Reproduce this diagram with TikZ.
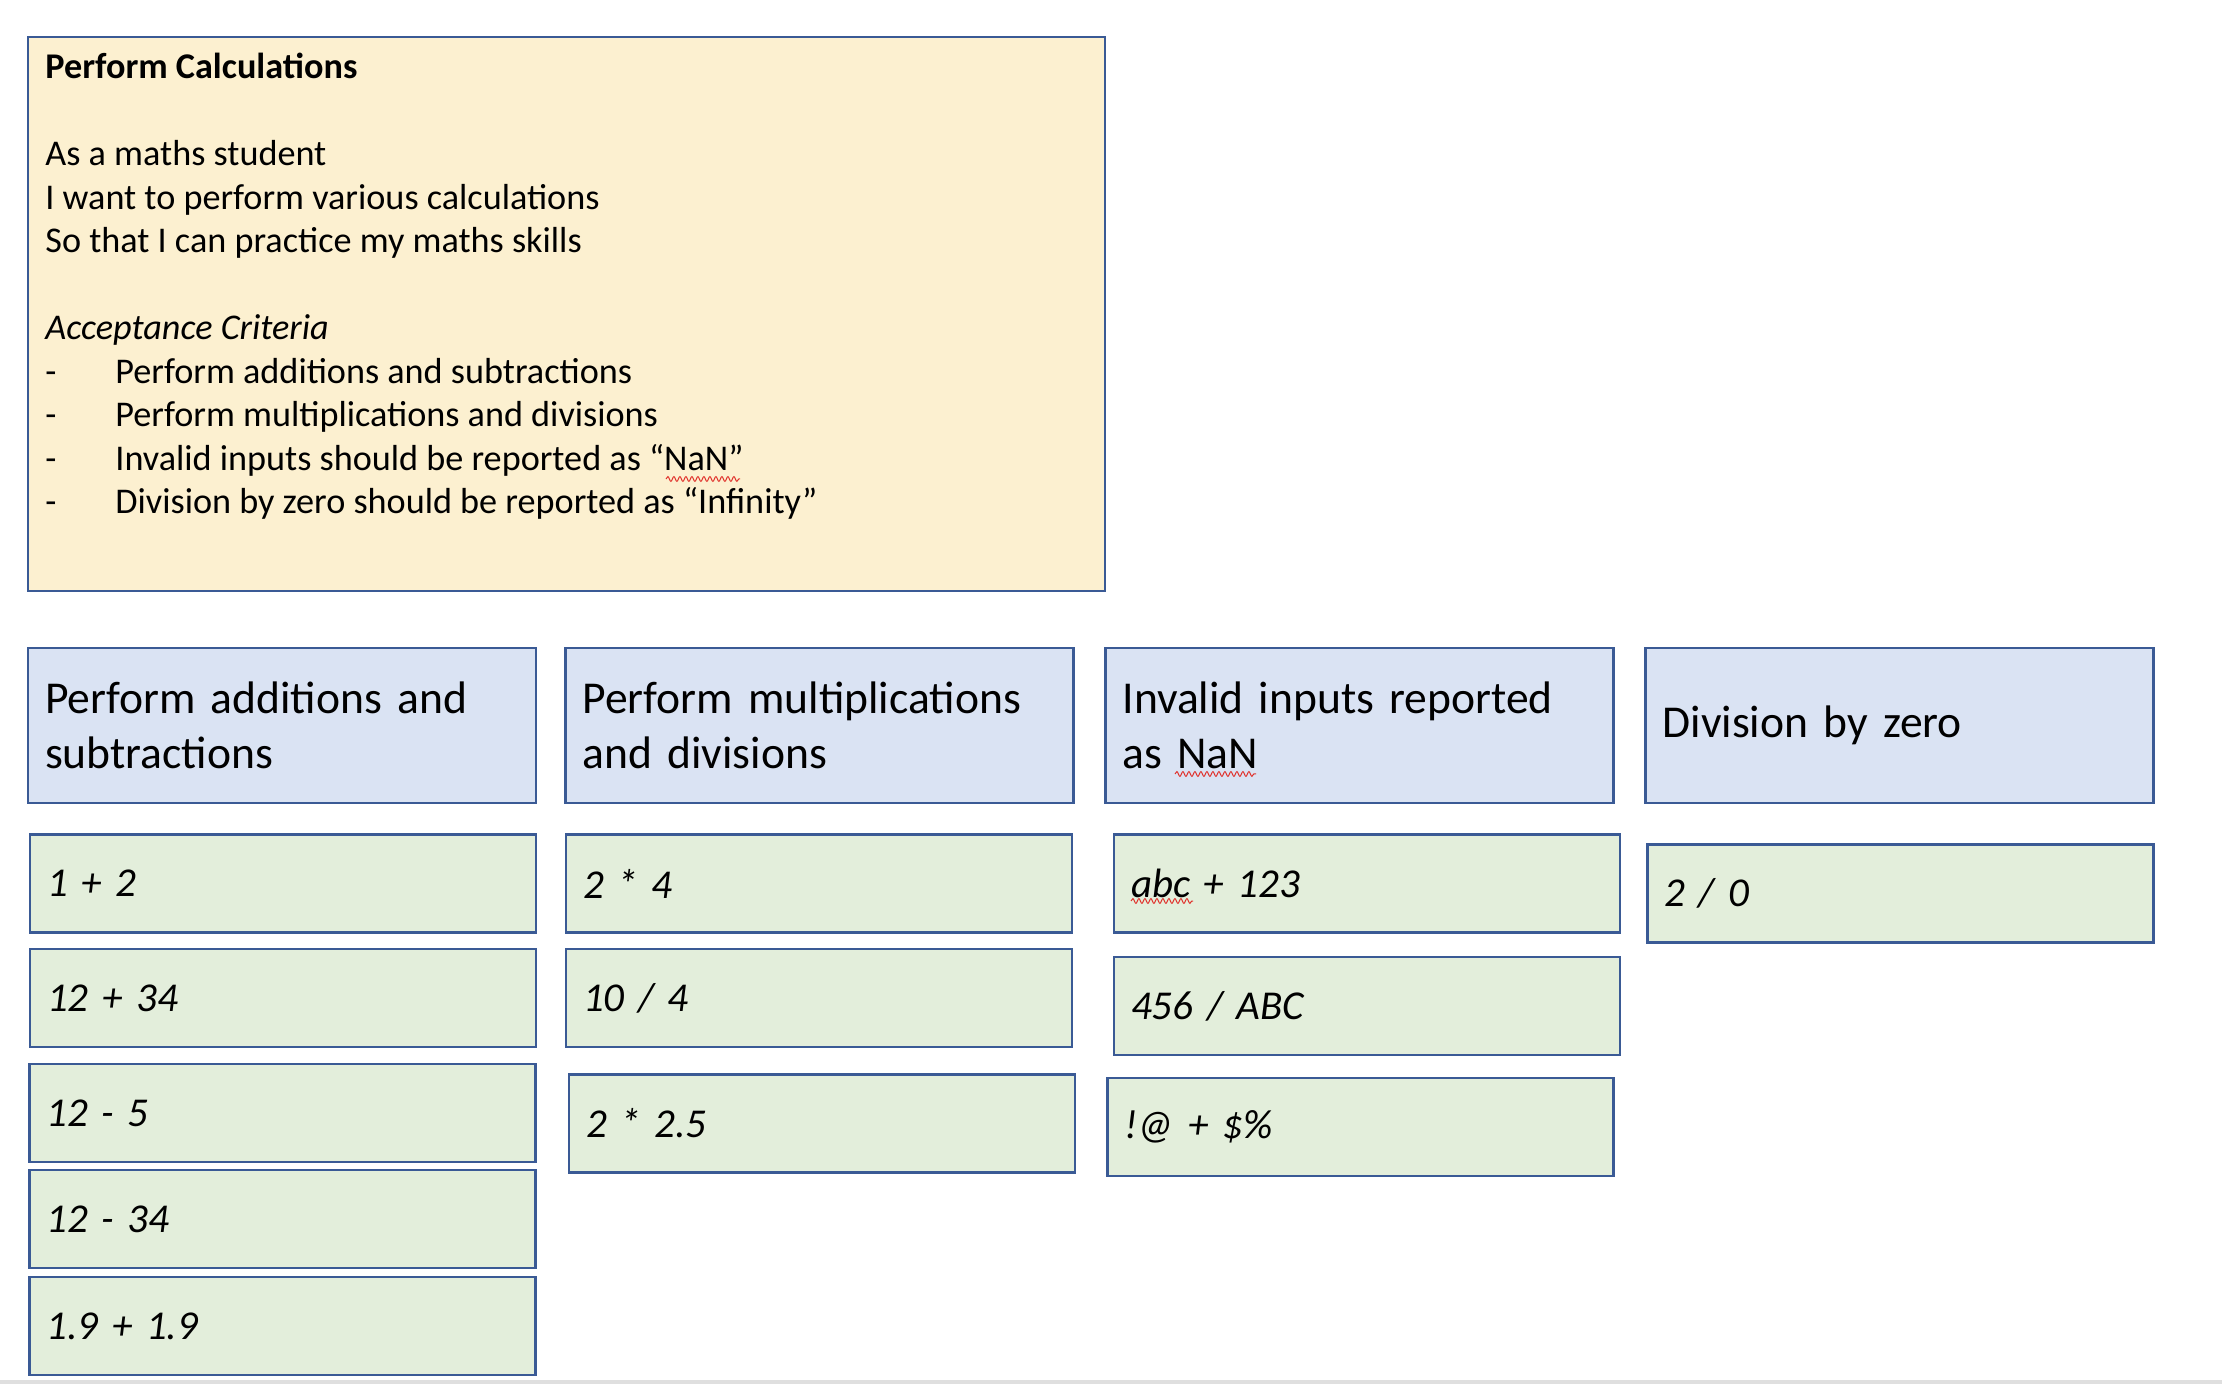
\documentclass[tikz,border=0pt]{standalone}
\usepackage{fontspec}
\setmainfont{Carlito}
\newfontfamily\hfont[WordSpace=0.85]{Carlito}
\newcommand\gboxfont{\fontsize{20.5}{24}\selectfont\itshape\spaceskip 2.2pt\relax}
\usetikzlibrary{decorations.pathmorphing}
\definecolor{bordc}{HTML}{3A5A95}
\definecolor{yelc}{HTML}{FCF0D0}
\definecolor{bluec}{HTML}{DAE3F3}
\definecolor{greenc}{HTML}{E3EEDB}
\definecolor{squigc}{HTML}{E0302A}
\tikzset{
  card/.style={draw=bordc, line width=1.3pt, rectangle},
  storybox/.style={card, fill=yelc, minimum width=538.5pt, minimum height=277pt, inner sep=0pt},
  storytxt/.style={anchor=base west, inner sep=0pt, font=\fontsize{18.1}{22}\selectfont},
  hbox/.style={card, fill=bluec, text width=237pt, inner xsep=8.5pt, minimum height=77.5pt, align=left, font=\hfont\fontsize{22.8}{27.5}\selectfont},
  gbox/.style={card, fill=greenc, text width=236pt, inner xsep=8.5pt, minimum height=49pt, align=left, font=\gboxfont},
  squig/.style={draw=squigc, line width=0.5pt, decorate, decoration={snake, amplitude=1.2pt, segment length=3pt}}
}
\begin{document}
\begin{tikzpicture}[x=0.5pt,y=-0.5pt]
\useasboundingbox (0,0) rectangle (2222,1384);
\fill[gray!25] (0,1380) rectangle (2222,1384);
% story card
\node[storybox] (story) at (566.5,314) {};
\node[storytxt, font=\fontsize{18.1}{22}\bfseries] (t0) at (45,79) {Perform Calculations};
\node[storytxt] (t1) at (45,166) {As a maths student};
\node[storytxt] (t2) at (45,209.5) {I want to perform various calculations};
\node[storytxt] (t3) at (45,253) {So that I can practice my maths skills};
\node[storytxt, font=\fontsize{18.1}{22}\itshape] (t4) at (45,340) {Acceptance Criteria};
\node[storytxt] (d1) at (45,383.5) {-};
\node[storytxt] (b1) at (115,383.5) {Perform additions and subtractions};
\node[storytxt] (d2) at (45,427) {-};
\node[storytxt] (b2) at (115,427) {Perform multiplications and divisions};
\node[storytxt] (d3) at (45,470.5) {-};
\node[storytxt] (b3) at (115,470.5) {Invalid inputs should be reported as “NaN”};
\node[storytxt] (d4) at (45,514) {-};
\node[storytxt] (b4) at (115,514) {Division by zero should be reported as “Infinity”};
% headers
\node[hbox] (h1) at (282,725.5) {Perform additions and\\subtractions};
\node[hbox] (h2) at (819.5,725.5) {Perform multiplications\\and divisions};
\node[hbox] (h3) at (1359.5,725.5) {Invalid inputs reported\\as NaN};
\node[hbox] (h4) at (1899.5,725.5) {Division by zero};
% column 1
\node[gbox] (a1) at (283,883.5) {1 + 2};
\node[gbox] (a2) at (283,998) {12 + 34};
\node[gbox] (a3) at (282.5,1113) {12 - 5};
\node[gbox] (a4) at (282.5,1219) {12 - 34};
\node[gbox] (a5) at (282.5,1326) {1.9 + 1.9};
% column 2
\node[gbox] (m1) at (819,883.5) {2 * 4};
\node[gbox] (m2) at (819,998) {10 / 4};
\node[gbox] (m3) at (822,1123.5) {2 * 2.5};
% column 3
\node[gbox] (n1) at (1367,883.5) {abc + 123};
\node[gbox] (n2) at (1367,1006) {456 / ABC};
\node[gbox] (n3) at (1360.5,1127) {!@ + \$\%};
% column 4
\node[gbox] (z1) at (1900.5,893.5) {2 / 0};
% spell-check squiggles
\coordinate (s1a) at (666,479); \coordinate (s1b) at (740,479);
\coordinate (s2a) at (1175,774); \coordinate (s2b) at (1256,774);
\coordinate (s3a) at (1131,901); \coordinate (s3b) at (1193,901);
\draw[squig] (s1a) -- (s1b);
\draw[squig] (s2a) -- (s2b);
\draw[squig] (s3a) -- (s3b);
\end{tikzpicture}
\end{document}
